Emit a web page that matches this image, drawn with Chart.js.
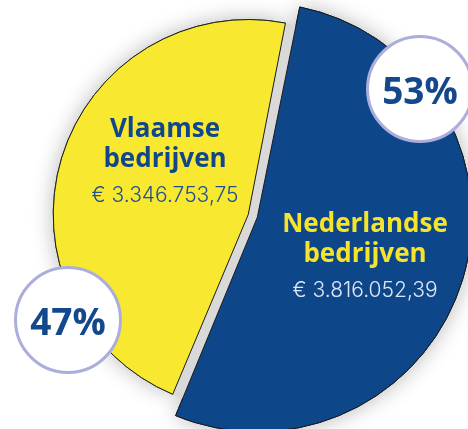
<!DOCTYPE html>
<html>
<head>
<meta charset="utf-8">
<script src="https://cdn.jsdelivr.net/npm/chart.js@4.4.1/dist/chart.umd.min.js"></script>
<style>
  body { margin: 0; background: #fff; }
  .wrap { position: relative; width: 468px; height: 429px; overflow: hidden; font-family: "Open Sans", sans-serif; }
  #pie { position: absolute; left: 0; top: 0; }
  .label { position: absolute; width: 240px; text-align: center; }
  .label .name { font-weight: 700; font-size: 26px; line-height: 30px; }
  .label .amount { font-family: Inter, sans-serif; font-weight: 300; font-size: 21px; line-height: 24px; margin-top: 11px; }
  .badge {
    position: absolute; width: 102px; height: 102px; border: 3px solid #abaedb; border-radius: 50%;
    background: #fff; display: flex; align-items: center; justify-content: center;
    font-weight: 700; font-size: 37px; color: #13488c;
  }
</style>
</head>
<body>
<div class="wrap" id="wrap">
  <canvas id="pie" width="468" height="429"></canvas>
</div>
<script>
const categories = ['Nederlandse bedrijven', 'Vlaamse bedrijven'];
const amounts = [3816052.39, 3346753.75];
const shares = [53, 47];
const sliceColors = ['#0e468a', '#f8e82f'];

// where the html labels go (styles only)
const labelStyle = [
  { left: 245, top: 207, name: '#f6e32b', amount: '#dfe6f3' },
  { left: 45, top: 112, name: '#11468c', amount: '#1f4f91' },
];
const badgeStyle = [
  { left: 366, top: 35 },
  { left: 14, top: 266 },
];
// the pulled-out slice is drawn a bit bigger than the other one
const extraRadius = [10, 0];

const euro = v => {
  const [int, dec] = v.toFixed(2).split('.');
  return '€ ' + int.replace(/\B(?=(\d{3})+(?!\d))/g, '.') + ',' + dec;
};

const wrap = document.getElementById('wrap');
categories.forEach((name, i) => {
  const words = name.split(' ');
  const l = document.createElement('div');
  l.className = 'label';
  l.style.left = labelStyle[i].left + 'px';
  l.style.top = labelStyle[i].top + 'px';
  l.innerHTML = `
    <div class="name" style="color:${labelStyle[i].name}">${words[0]}<br>${words[1]}</div>
    <div class="amount" style="color:${labelStyle[i].amount}">${euro(amounts[i])}</div>`;
  wrap.appendChild(l);

  const b = document.createElement('div');
  b.className = 'badge';
  b.style.left = badgeStyle[i].left + 'px';
  b.style.top = badgeStyle[i].top + 'px';
  b.textContent = shares[i] + '%';
  wrap.appendChild(b);
});

// soft shadow under the slices + grey in the gap between them
const shadowPlugin = {
  id: 'pieShadow',
  afterDatasetsUpdate(chart) {
    chart.getDatasetMeta(0).data.forEach((a, i) => { a.outerRadius += extraRadius[i]; });
  },
  beforeDatasetsDraw(chart) {
    const ctx = chart.ctx;
    const arcs = chart.getDatasetMeta(0).data;
    ctx.save();
    ctx.shadowColor = 'rgba(0,0,0,0.28)';
    ctx.shadowBlur = 22;
    arcs.forEach(a => a.draw(ctx));
    ctx.restore();
    const a = arcs[1];
    ctx.save();
    ctx.fillStyle = '#d9d9d9';
    ctx.beginPath();
    ctx.arc(a.x, a.y, a.outerRadius, 0, Math.PI * 2);
    ctx.fill();
    ctx.restore();
  }
};

new Chart(document.getElementById('pie'), {
  type: 'pie',
  data: {
    labels: categories,
    datasets: [{
      data: amounts,
      backgroundColor: sliceColors,
      borderColor: '#1b1b1b',
      borderWidth: 1,
      hoverBorderWidth: 1,
      offset: [38, 0],
      hoverOffset: 0
    }]
  },
  options: {
    responsive: false,
    animation: false,
    events: [],
    rotation: 11,
    layout: { padding: { left: 28.5, top: -10.5, right: -5.5, bottom: -5.5 } },
    plugins: { legend: { display: false }, tooltip: { enabled: false } }
  },
  plugins: [shadowPlugin]
});
</script>
</body>
</html>
